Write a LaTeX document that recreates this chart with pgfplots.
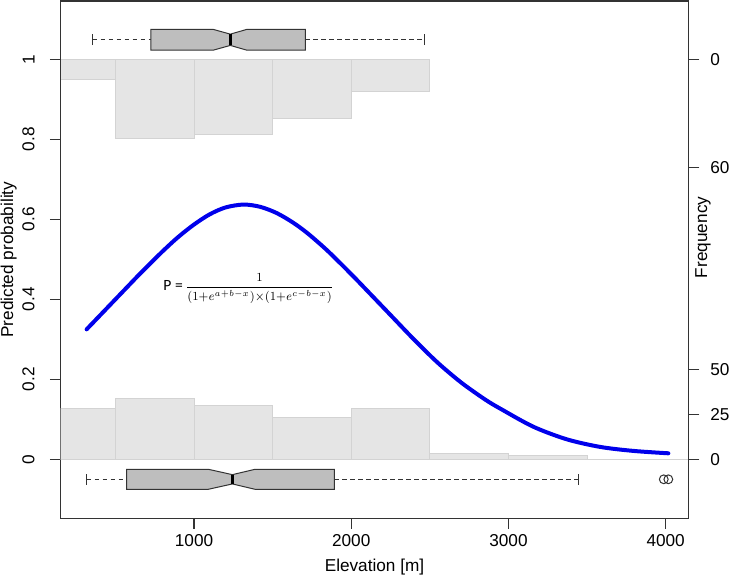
\documentclass[border=0pt]{standalone}
\usepackage[no-math]{fontspec}
\setmainfont{Liberation Sans}
\newfontfamily\carlito{Carlito}
\usepackage{pgfplots}
\pgfplotsset{compat=1.18}
\usepackage{pgfplotstable}

\definecolor{histfill}{RGB}{229,229,229}
\definecolor{histedge}{RGB}{211,211,211}
\definecolor{boxfill}{RGB}{190,190,190}
\definecolor{curveblue}{RGB}{0,0,235}

% frequencies of the lower (absence) histogram, 500 m bins
\pgfplotstableread{
x n
0 28
500 34
1000 30
1500 23
2000 28
2500 3
3000 2
3500 0
4000 0
4500 0
}\histlow

% frequencies of the upper (presence) histogram
\pgfplotstableread{
x n
0 11
500 44
1000 42
1500 33
2000 18
2500 18
}\histhigh

% fitted probability curve
\pgfplotstableread{
x p
317 0.325
400 0.359
500 0.400
600 0.441
650 0.4615
700 0.481
800 0.520
900 0.556
1000 0.587
1100 0.6126
1200 0.6297
1314 0.637
1420 0.6314
1526 0.6157
1632 0.5913
1727 0.5636
1850 0.5212
2000 0.4629
2100 0.4222
2250 0.3607
2400 0.2992
2550 0.2416
2700 0.1918
2850 0.1499
2947 0.1269
3158 0.0815
3371 0.050
3583 0.031
3794 0.021
4017 0.015
}\fitted

\pgfplotsset{
 chartframe/.style={
 scale only axis, width=313.8pt, height=258.65pt,
 at={(0pt,0pt)}, anchor=south west,
 xmin=152, xmax=4144,
 font=\fontsize{8.6}{10.3}\selectfont,
 /pgf/number format/assume math mode=true,
 },
 whisker/.style={dash pattern=on 2.2pt off 1.8pt, black!80, line width=0.5pt},
}

\begin{document}
\begin{tikzpicture}
\useasboundingbox (-30.35pt,-31.35pt) rectangle (334.65pt,259.15pt);

% upper histogram hangs down from P = 1
\begin{axis}[chartframe, hide axis, y dir=reverse, ymin=-0.146, ymax=1.1475]
\addplot[ybar interval, fill=histfill, draw=histedge, line width=0.5pt]
 table[x=x, y expr=\thisrow{n}*0.0045] {\histhigh};
\end{axis}

\begin{axis}[chartframe,
 ymin=-0.1475, ymax=1.146,
 tick pos=left, tick align=outside, major tick length=5.35pt,
 axis line style={black!80, line width=0.6pt},
 tick style={black!80, line width=0.6pt},
 xtick={1000,2000,3000,4000}, xticklabels={1000,2000,3000,4000},
 ytick={0,0.2,0.4,0.6,0.8,1}, yticklabels={0,0.2,0.4,0.6,0.8,1},
 yticklabel style={rotate=90, anchor=south, inner sep=0pt},
 xticklabel style={anchor=north, inner sep=0pt},
 yticklabel shift=7.5pt, xticklabel shift=2.5pt,
 xlabel={Elevation [m]}, ylabel={Predicted probability},
 every axis x label/.style={at={([yshift=-26.85pt]rel axis cs:0.5,0)}, anchor=base},
 every axis y label/.style={at={([xshift=-23.85pt]rel axis cs:0,0.5)}, rotate=90, anchor=base},
]
\addplot[ybar interval, fill=histfill, draw=histedge, line width=0.5pt]
 table[x=x, y expr=\thisrow{n}*0.0045] {\histlow};

% upper notched box plot
\addplot[whisker] coordinates {(355,1.049)(725,1.049)};
\addplot[whisker] coordinates {(1708,1.049)(2465,1.049)};
\addplot[black!80, line width=0.5pt] coordinates {(355,1.0357)(355,1.0623)};
\addplot[black!80, line width=0.5pt] coordinates {(2465,1.0357)(2465,1.0623)};
\addplot[fill=boxfill, draw=black!80, line width=0.5pt] coordinates {
 (725,1.0231)(1123,1.0231)(1231,1.0349)(1335,1.0231)(1708,1.0231)
 (1708,1.0749)(1335,1.0749)(1231,1.0631)(1123,1.0749)(725,1.0749)} -- cycle;
\addplot[black, line width=1.4pt] coordinates {(1231,1.0349)(1231,1.0631)};

% lower notched box plot
\addplot[whisker] coordinates {(317,-0.05)(572,-0.05)};
\addplot[whisker] coordinates {(1893,-0.05)(3445,-0.05)};
\addplot[black!80, line width=0.5pt] coordinates {(317,-0.0633)(317,-0.0367)};
\addplot[black!80, line width=0.5pt] coordinates {(3445,-0.0633)(3445,-0.0367)};
\addplot[fill=boxfill, draw=black!80, line width=0.5pt] coordinates {
 (572,-0.075)(1091,-0.075)(1244,-0.0616)(1388,-0.075)(1893,-0.075)
 (1893,-0.025)(1388,-0.025)(1244,-0.0384)(1091,-0.025)(572,-0.025)} -- cycle;
\addplot[black, line width=1.4pt] coordinates {(1244,-0.0616)(1244,-0.0384)};
\addplot[only marks, mark=o, mark size=2.2pt, black!80, line width=0.5pt] coordinates {(3988,-0.05)(4017,-0.05)};

% fitted curve
\addplot[curveblue, line width=2pt, line cap=round, smooth] table[x=x, y=p] {\fitted};

\node[anchor=base west, inner sep=0pt] at (axis cs:803,0.421)
 {{\fontsize{7.8}{9}\selectfont\carlito P =\,}\scalebox{0.8}[0.88]{\fontsize{7}{8}\selectfont$\displaystyle\frac{1}{(1{+}e^{a+b-x}){\times}(1{+}e^{c-b-x})}$}};
\end{axis}

% right-hand frequency axis
\begin{axis}[chartframe,
 ymin=-0.1475, ymax=1.146,
 hide x axis, axis y line*=right,
 axis line style={draw=none},
 tick align=outside, major tick length=5.5pt,
 tick style={black!80, line width=0.6pt},
 ytick={0,0.1125,0.225,0.73,1}, yticklabels={0,25,50,60,0},
 yticklabel style={anchor=west, inner sep=0pt},
 yticklabel shift=5.35pt,
 ylabel={Frequency},
 every axis y label/.style={at={([xshift=9.35pt]rel axis cs:1,0.543)}, rotate=90, anchor=base},
]
\addplot[draw=none] coordinates {(1000,0)};
\end{axis}
\end{tikzpicture}
\end{document}
